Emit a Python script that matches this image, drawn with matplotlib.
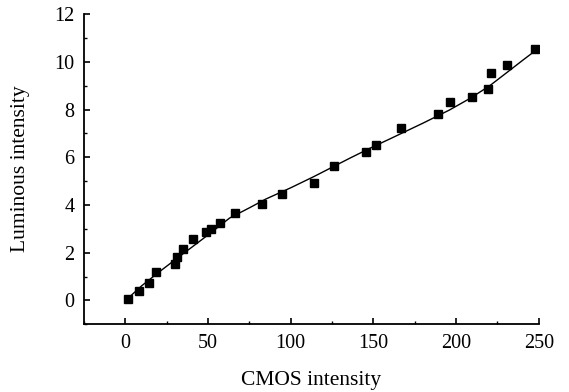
import numpy as np
import matplotlib.pyplot as plt
from matplotlib.ticker import MultipleLocator

plt.rcParams['font.family'] = ['Liberation Serif', 'DejaVu Serif']

# measured points
cmos = [1.4, 8.3, 14.1, 18.3, 29.8, 31.0, 34.6, 40.9, 48.5, 51.7, 57.0, 66.6,
        82.9, 94.8, 114.3, 126.4, 145.7, 151.4, 166.8, 189.2, 196.4, 209.7,
        219.0, 220.8, 230.5, 247.6]
lum = [0.06, 0.38, 0.73, 1.19, 1.51, 1.84, 2.16, 2.57, 2.86, 3.00, 3.26, 3.66,
       4.03, 4.48, 4.94, 5.64, 6.23, 6.51, 7.23, 7.80, 8.30, 8.51,
       8.86, 9.54, 9.87, 10.54]

# fitted curve
fit_x = [1, 10, 20, 30, 40, 52, 63, 75, 85, 100, 114, 125, 136, 148, 160,
         170, 180, 196, 208, 220, 232, 240, 247.6]
fit_y = [0.05, 0.62, 1.17, 1.70, 2.22, 2.85, 3.45, 3.88, 4.25, 4.72, 5.19,
         5.58, 5.97, 6.38, 6.77, 7.10, 7.43, 7.98, 8.45, 8.98, 9.62, 10.05, 10.45]

fig = plt.figure(figsize=(5.69, 3.92), dpi=100)
ax = fig.add_axes([0.1476, 0.1727, 0.7994, 0.7915])

ax.plot(fit_x, fit_y, color='black', linewidth=1.0)
ax.plot(cmos, lum, 's', color='black', markersize=6.3)

ax.set_xlim(-25, 250)
ax.set_ylim(-1, 12)
ax.xaxis.set_major_locator(MultipleLocator(50))
ax.xaxis.set_minor_locator(MultipleLocator(25))
ax.yaxis.set_major_locator(MultipleLocator(2))
ax.yaxis.set_minor_locator(MultipleLocator(1))

for s in ['top', 'right']:
    ax.spines[s].set_visible(False)
for s in ['left', 'bottom']:
    ax.spines[s].set_linewidth(1.3)

ax.tick_params(which='major', direction='in', length=4.5, width=1.2, labelsize=14.5, pad=7)
ax.tick_params(which='minor', direction='in', length=2.5, width=1.0)

ax.set_xlabel('CMOS intensity', fontsize=15.5, labelpad=13)
ax.set_ylabel('Luminous intensity', fontsize=15.5, labelpad=17)

fig.savefig('out.png', dpi=100)
